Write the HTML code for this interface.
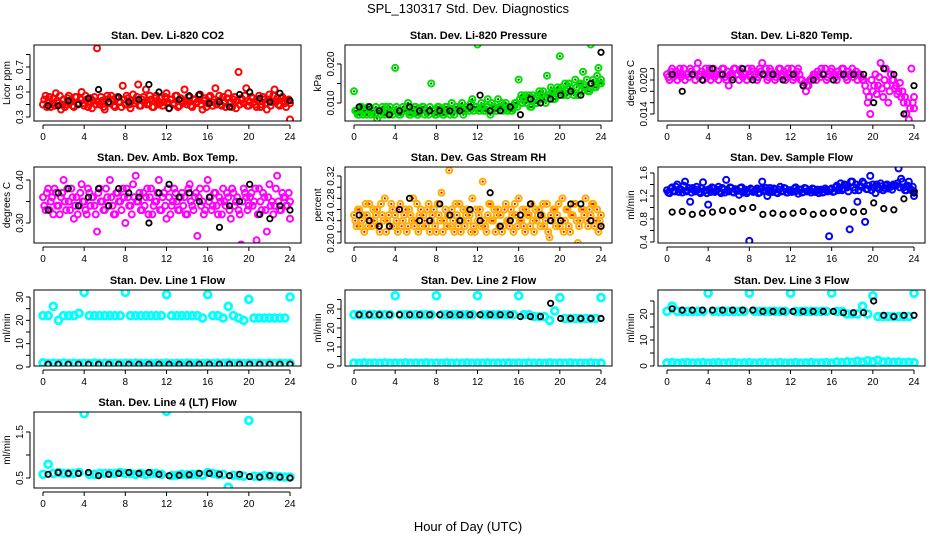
<!DOCTYPE html>
<html><head><meta charset="utf-8"><style>
body{margin:0;background:#fff;}
svg{display:block;font-family:"Liberation Sans",sans-serif;}
</style></head><body>
<svg id="chart" width="936" height="540" viewBox="0 0 936 540">
<text x="468" y="13" text-anchor="middle" font-size="13">SPL_130317  Std. Dev. Diagnostics</text>
<text x="468" y="531" text-anchor="middle" font-size="13">Hour of Day (UTC)</text>
</svg>
<script>
const co2Color=[0.40,0.47,0.42,0.38,0.45,0.49,0.41,0.36,0.44,0.40,0.47,0.43,0.38,0.46,0.41,0.50,0.39,0.44,0.42,0.37,0.46,0.85,0.40,0.43,0.36,0.47,0.41,0.44,0.38,0.46,0.42,0.55,0.40,0.45,0.37,0.48,0.43,0.56,0.39,0.46,0.52,0.41,0.44,0.38,0.47,0.40,0.45,0.42,0.49,0.37,0.44,0.41,0.47,0.39,0.43,0.52,0.40,0.46,0.38,0.44,0.42,0.48,0.36,0.45,0.41,0.47,0.39,0.53,0.43,0.40,0.46,0.38,0.49,0.42,0.44,0.37,0.66,0.45,0.41,0.53,0.39,0.46,0.42,0.38,0.47,0.40,0.44,0.36,0.48,0.42,0.52,0.45,0.39,0.46,0.41,0.43,0.28];
const co2Color2=[0.44,0.38,0.46,0.41,0.39,0.43,0.47,0.40,0.38,0.45,0.42,0.39,0.46,0.40,0.44,0.41,0.47,0.38,0.45,0.43,0.40,0.42,0.46,0.38,0.44,0.41,0.47,0.39,0.45,0.42,0.38,0.44,0.47,0.40,0.43,0.41,0.46,0.39,0.44,0.42,0.40,0.47,0.38,0.45,0.43,0.41,0.39,0.46,0.42,0.44,0.40,0.47,0.38,0.45,0.41,0.43,0.46,0.39,0.44,0.41,0.47,0.40,0.43,0.38,0.46,0.42,0.44,0.40,0.47,0.39,0.42,0.45,0.41,0.38,0.46,0.43,0.40,0.44,0.47,0.39,0.42,0.45,0.40,0.43,0.38,0.46,0.41,0.44,0.39,0.47,0.42,0.40,0.45,0.43,0.38,0.44,0.41];
const co2Black=[0.39,0.39,0.43,0.40,0.45,0.52,0.42,0.46,0.42,0.44,0.56,0.50,0.37,0.44,0.47,0.48,0.41,0.42,0.38,0.48,0.50,0.45,0.42,0.49,0.43];
const presColor=[0.013,0.008,0.007,0.009,0.008,0.007,0.009,0.008,0.007,0.006,0.008,0.009,0.007,0.008,0.009,0.007,0.019,0.008,0.007,0.009,0.008,0.010,0.007,0.008,0.009,0.007,0.008,0.009,0.008,0.007,0.015,0.008,0.007,0.009,0.008,0.007,0.009,0.008,0.010,0.007,0.009,0.008,0.010,0.008,0.009,0.008,0.011,0.009,0.025,0.008,0.009,0.008,0.011,0.007,0.009,0.008,0.011,0.009,0.008,0.010,0.009,0.008,0.009,0.010,0.016,0.012,0.011,0.010,0.012,0.009,0.011,0.010,0.013,0.012,0.011,0.017,0.012,0.013,0.011,0.014,0.022,0.013,0.015,0.012,0.014,0.013,0.016,0.012,0.015,0.018,0.014,0.013,0.025,0.016,0.014,0.019,0.015];
const presColor2=[0.008,0.007,0.009,0.007,0.008,0.009,0.007,0.008,0.009,0.008,0.007,0.008,0.009,0.007,0.008,0.008,0.009,0.007,0.008,0.008,0.009,0.007,0.008,0.009,0.007,0.008,0.009,0.007,0.008,0.009,0.008,0.007,0.009,0.008,0.007,0.009,0.008,0.007,0.008,0.009,0.008,0.009,0.007,0.009,0.008,0.010,0.008,0.009,0.008,0.010,0.008,0.009,0.008,0.010,0.009,0.008,0.009,0.010,0.009,0.008,0.009,0.008,0.010,0.009,0.011,0.010,0.012,0.011,0.009,0.012,0.010,0.012,0.011,0.013,0.010,0.012,0.014,0.011,0.013,0.012,0.014,0.012,0.013,0.015,0.013,0.012,0.014,0.015,0.013,0.014,0.016,0.013,0.015,0.014,0.017,0.015,0.016];
const presBlack=[0.009,0.009,0.008,0.007,0.008,0.009,0.008,0.008,0.008,0.008,0.008,0.009,0.012,0.008,0.008,0.009,0.007,0.011,0.010,0.011,0.012,0.013,0.012,0.015,0.023];
const tempColor=[0.021,0.020,0.022,0.021,0.020,0.022,0.021,0.020,0.021,0.022,0.021,0.020,0.023,0.021,0.020,0.022,0.021,0.020,0.022,0.021,0.020,0.021,0.022,0.020,0.019,0.021,0.022,0.021,0.020,0.022,0.021,0.020,0.021,0.022,0.021,0.020,0.022,0.023,0.021,0.020,0.022,0.021,0.020,0.021,0.022,0.021,0.020,0.022,0.021,0.020,0.021,0.022,0.020,0.019,0.018,0.019,0.020,0.021,0.020,0.021,0.022,0.021,0.020,0.021,0.022,0.021,0.020,0.021,0.022,0.021,0.020,0.021,0.022,0.021,0.020,0.021,0.020,0.019,0.016,0.014,0.018,0.021,0.019,0.023,0.017,0.022,0.016,0.021,0.020,0.019,0.018,0.017,0.016,0.014,0.013,0.022,0.015];
const tempColor2=[0.0205,0.0215,0.0205,0.0215,0.0210,0.0205,0.0220,0.0210,0.0205,0.0215,0.0210,0.0220,0.0205,0.0215,0.0210,0.0205,0.0220,0.0210,0.0205,0.0215,0.0210,0.0220,0.0205,0.0215,0.0210,0.0205,0.0220,0.0210,0.0215,0.0205,0.0210,0.0220,0.0205,0.0215,0.0210,0.0205,0.0215,0.0210,0.0220,0.0205,0.0215,0.0210,0.0205,0.0220,0.0210,0.0215,0.0205,0.0210,0.0220,0.0205,0.0215,0.0210,0.0200,0.0195,0.0190,0.0200,0.0205,0.0210,0.0215,0.0205,0.0210,0.0220,0.0205,0.0215,0.0210,0.0205,0.0215,0.0210,0.0220,0.0205,0.0215,0.0210,0.0205,0.0215,0.0210,0.0205,0.0200,0.0180,0.0170,0.0200,0.0190,0.0175,0.0205,0.0185,0.0200,0.0190,0.0180,0.0200,0.0185,0.0175,0.0195,0.0180,0.0170,0.0160,0.0150,0.0160,0.0170];
const tempBlack=[0.021,0.018,0.021,0.020,0.022,0.021,0.020,0.022,0.020,0.021,0.021,0.020,0.021,0.019,0.020,0.021,0.020,0.021,0.021,0.021,0.016,0.022,0.021,0.014,0.019];
const ambColor=[0.36,0.33,0.38,0.35,0.32,0.37,0.34,0.36,0.40,0.33,0.35,0.38,0.31,0.36,0.34,0.39,0.35,0.32,0.37,0.36,0.34,0.28,0.38,0.35,0.33,0.36,0.40,0.34,0.32,0.37,0.35,0.38,0.30,0.36,0.34,0.39,0.41,0.35,0.33,0.37,0.36,0.32,0.38,0.34,0.35,0.40,0.33,0.37,0.31,0.36,0.34,0.38,0.35,0.33,0.37,0.36,0.32,0.39,0.34,0.36,0.27,0.38,0.35,0.33,0.40,0.36,0.34,0.37,0.32,0.35,0.38,0.34,0.36,0.31,0.37,0.35,0.33,0.25,0.38,0.36,0.34,0.37,0.35,0.26,0.38,0.33,0.36,0.28,0.39,0.35,0.34,0.41,0.33,0.37,0.36,0.34,0.31];
const ambColor2=[0.34,0.37,0.33,0.36,0.38,0.34,0.32,0.37,0.35,0.38,0.33,0.36,0.34,0.32,0.37,0.35,0.33,0.38,0.34,0.36,0.32,0.37,0.35,0.33,0.38,0.34,0.36,0.32,0.37,0.35,0.33,0.36,0.38,0.34,0.32,0.36,0.35,0.37,0.33,0.34,0.38,0.36,0.32,0.35,0.37,0.33,0.36,0.34,0.38,0.32,0.35,0.37,0.33,0.36,0.34,0.32,0.38,0.35,0.33,0.37,0.36,0.34,0.32,0.38,0.35,0.33,0.37,0.34,0.36,0.32,0.35,0.37,0.33,0.38,0.34,0.36,0.32,0.35,0.37,0.33,0.36,0.34,0.38,0.32,0.35,0.37,0.33,0.36,0.34,0.32,0.38,0.35,0.33,0.36,0.34,0.37,0.35];
const ambBlack=[0.33,0.37,0.38,0.34,0.36,0.38,0.34,0.38,0.37,0.36,0.30,0.37,0.39,0.36,0.37,0.35,0.36,0.29,0.34,0.35,0.39,0.32,0.31,0.34,0.33];
const rhColor=[0.25,0.23,0.26,0.24,0.22,0.25,0.27,0.23,0.24,0.26,0.22,0.25,0.28,0.24,0.23,0.26,0.25,0.22,0.27,0.24,0.26,0.23,0.25,0.28,0.24,0.22,0.26,0.25,0.23,0.27,0.24,0.26,0.22,0.25,0.29,0.24,0.23,0.33,0.26,0.22,0.25,0.27,0.24,0.23,0.26,0.25,0.28,0.22,0.24,0.26,0.31,0.23,0.25,0.27,0.24,0.22,0.26,0.25,0.23,0.27,0.24,0.26,0.22,0.25,0.28,0.24,0.23,0.26,0.25,0.27,0.22,0.24,0.26,0.25,0.23,0.27,0.21,0.24,0.26,0.25,0.23,0.28,0.24,0.26,0.22,0.25,0.27,0.20,0.24,0.26,0.28,0.23,0.25,0.27,0.24,0.22,0.25];
const rhColor2=[0.24,0.26,0.23,0.25,0.27,0.23,0.24,0.26,0.25,0.23,0.27,0.24,0.22,0.25,0.27,0.23,0.24,0.26,0.23,0.25,0.22,0.26,0.24,0.23,0.27,0.25,0.23,0.24,0.26,0.22,0.25,0.23,0.27,0.24,0.22,0.26,0.25,0.23,0.24,0.27,0.23,0.22,0.26,0.25,0.24,0.22,0.23,0.26,0.25,0.23,0.24,0.22,0.27,0.24,0.26,0.25,0.23,0.22,0.26,0.24,0.23,0.25,0.27,0.23,0.24,0.26,0.22,0.25,0.23,0.24,0.26,0.25,0.23,0.27,0.24,0.22,0.25,0.26,0.23,0.27,0.24,0.22,0.26,0.23,0.25,0.27,0.24,0.23,0.26,0.25,0.24,0.26,0.27,0.23,0.26,0.24,0.23];
const rhBlack=[0.25,0.24,0.23,0.23,0.26,0.28,0.24,0.24,0.27,0.25,0.24,0.26,0.24,0.29,0.23,0.24,0.25,0.27,0.25,0.24,0.24,0.27,0.27,0.24,0.23];
const flowColor=[1.30,1.25,1.35,1.28,1.40,1.32,1.26,1.45,1.30,1.10,1.34,1.28,1.31,1.25,1.44,1.30,1.05,1.27,1.33,1.29,1.36,1.25,1.31,1.48,1.28,1.34,1.26,1.30,1.22,1.35,1.29,1.25,0.42,1.31,1.28,1.33,1.26,1.45,1.30,1.20,1.34,1.27,1.31,1.25,1.36,1.29,1.33,1.26,1.30,1.28,1.35,1.24,1.31,1.27,1.33,1.29,1.26,1.32,1.28,1.25,1.31,1.27,1.30,0.50,1.33,1.28,1.38,1.34,1.30,1.40,1.35,0.62,1.45,1.30,1.10,1.38,1.45,0.75,1.32,1.55,1.40,1.25,1.35,1.42,1.30,1.38,1.33,1.36,1.40,1.38,1.68,1.50,1.35,1.30,1.45,1.30,1.20];
const flowColor2=[1.26,1.33,1.29,1.36,1.27,1.31,1.38,1.28,1.34,1.26,1.30,1.36,1.27,1.33,1.29,1.25,1.32,1.35,1.27,1.31,1.28,1.34,1.26,1.30,1.35,1.27,1.32,1.29,1.34,1.26,1.31,1.28,1.33,1.27,1.30,1.25,1.32,1.29,1.34,1.27,1.30,1.33,1.26,1.31,1.28,1.34,1.26,1.30,1.27,1.33,1.29,1.31,1.26,1.34,1.28,1.30,1.33,1.27,1.31,1.29,1.26,1.33,1.28,1.31,1.27,1.35,1.30,1.42,1.33,1.38,1.28,1.45,1.35,1.40,1.30,1.36,1.42,1.32,1.38,1.30,1.35,1.40,1.32,1.37,1.34,1.40,1.36,1.31,1.38,1.42,1.35,1.45,1.30,1.38,1.33,1.36,1.28];
const flowBlack=[0.92,0.93,0.88,0.90,0.92,0.95,0.93,0.98,1.00,0.88,0.90,0.88,0.90,0.93,0.88,0.90,0.92,0.95,0.92,0.93,1.08,0.98,0.96,1.15,1.25];
const line1High=[22,22,26,20,22,22,22,23,32,22,22,22,22,22,22,22,32,22,22,22,22,22,22,22,31,22,22,22,22,22,22,21,31,22,22,21,26,22,21,20,29,21,21,21,21,21,21,21,30];
const line1Low=[1.8,1.5,1.6,1.5,1.7,1.5,1.6,1.5,1.6,1.5,1.7,1.5,1.6,1.5,1.6,1.5,1.6,1.5,1.7,1.5,1.6,1.5,1.6,1.5,1.6,1.5,1.6,1.5,1.7,1.5,1.6,1.5,1.6,1.5,1.6,1.5,1.7,1.5,1.6,1.5,1.6,1.5,1.6,1.5,1.6,1.5,1.6,1.5,1.6];
const line1Black=[1.2,1.2,1.2,1.2,1.2,1.2,1.2,1.2,1.2,1.2,1.2,1.2,1.2,1.2,1.2,1.2,1.2,1.2,1.2,1.2,1.2,1.2,1.2,1.2,1.2];
const line2High=[27,27,27,27,27,27,27,27,37,27,27,27,27,27,27,27,37,27,27,27,27,27,27,27,37,27,27,27,27,27,27,27,37,27,27,26,26,26,24,29,36,25,25,25,25,25,25,25,36];
const line2Low=[1.5,1.4,1.6,1.4,1.5,1.4,1.6,1.4,1.5,1.4,1.6,1.4,1.5,1.4,1.6,1.4,1.5,1.4,1.6,1.4,1.5,1.4,1.6,1.4,1.5,1.4,1.6,1.4,1.5,1.4,1.6,1.4,1.5,1.4,1.6,1.4,1.5,1.4,1.6,1.4,1.5,1.4,1.6,1.4,1.5,1.4,1.6,1.4,1.5];
const line2Black=[27,27,27,27,27,27,27,27,27,27,27,27,27,27,27,27,26,26,26,33,25,25,25,25,25];
const line3High=[21,23,21,21,21,21,21,21,28,21,21,21,21,21,21,21,28,21,21,21,21,21,21,21,28,21,21,21,21,21,21,21,28,21,21,20,20,20,23,20,27,19,19,19,19,19,19,19,28];
const line3Low=[1.2,1.3,1.1,1.2,1.3,1.1,1.2,1.3,1.1,1.2,1.3,1.1,1.2,1.3,1.1,1.2,1.3,1.1,1.2,1.3,1.1,1.2,1.3,1.1,1.2,1.3,1.1,1.2,1.3,1.1,1.2,1.3,1.1,1.5,1.3,1.6,1.4,1.8,1.5,2.0,1.6,2.2,1.5,1.6,1.4,1.5,1.3,1.4,1.3];
const line3Black=[22,21.5,21.5,21.5,21.5,21.5,21.5,21.5,21.5,21,21,21,21,21,21,21,21,20.5,20.5,20.5,25,19.5,19,19.5,19.5];
const line4High=[0.58,0.80,0.60,0.62,0.60,0.60,0.60,0.62,1.90,0.58,0.58,0.60,0.60,0.60,0.60,0.62,0.60,0.60,0.58,0.60,0.58,0.60,0.60,0.58,1.95,0.55,0.56,0.58,0.57,0.58,0.58,0.56,0.62,0.60,0.58,0.58,0.30,0.56,0.55,0.54,1.75,0.54,0.53,0.55,0.54,0.54,0.53,0.52,0.52];
const line4Black=[0.58,0.62,0.60,0.60,0.62,0.55,0.58,0.60,0.62,0.60,0.62,0.58,0.55,0.56,0.57,0.60,0.60,0.58,0.55,0.58,0.53,0.52,0.55,0.52,0.50];
const xTicks=[0,4,8,12,16,20,24];

const NS='http://www.w3.org/2000/svg';
const svg=document.getElementById('chart');
const colLeft=[34,345,658], rowTop=[45,167,290,412], W=267, H=76;
function mk(tag,attrs,parent){const e=document.createElementNS(NS,tag);for(const k in attrs)e.setAttribute(k,attrs[k]);(parent||svg).appendChild(e);return e;}

const panels=[
 {c:0,r:0,key:'co2',title:'Stan. Dev. Li-820 CO2',yl:'Licor ppm',v0:0.3,p0:117,v1:0.7,p1:67,ticks:[0.3,0.4,0.5,0.6,0.7,0.8],labels:['0.3','','0.5','','0.7',''],series:[[co2Color2,'#ff0000',null],[co2Color,'#ff0000',null],[co2Black,'#000',null]]},
 {c:1,r:0,key:'pressure',title:'Stan. Dev. Li-820 Pressure',yl:'kPa',v0:0.010,p0:103,v1:0.020,p1:64,ticks:[0.010,0.015,0.020],labels:['0.010','','0.020'],series:[[presColor2,'#00e000','#006000'],[presColor,'#00e000','#006000'],[presBlack,'#000',null]]},
 {c:2,r:0,key:'temp',title:'Stan. Dev. Li-820 Temp.',yl:'degrees C',v0:0.014,p0:114,v1:0.020,p1:80,ticks:[0.014,0.016,0.018,0.020,0.022],labels:['0.014','','','0.020',''],series:[[tempColor2,'#ff00ff',null],[tempColor,'#ff00ff',null],[tempBlack,'#000',null]]},
 {c:0,r:1,key:'amb',title:'Stan. Dev. Amb. Box Temp.',yl:'degrees C',v0:0.30,p0:223,v1:0.40,p1:180,ticks:[0.30,0.35,0.40],labels:['0.30','','0.40'],series:[[ambColor2,'#ff00ff',null],[ambColor,'#ff00ff',null],[ambBlack,'#000',null]]},
 {c:1,r:1,key:'rh',title:'Stan. Dev. Gas Stream RH',yl:'percent',v0:0.20,p0:243,v1:0.32,p1:176,ticks:[0.20,0.22,0.24,0.26,0.28,0.30,0.32],labels:['0.20','','0.24','','0.28','','0.32'],series:[[rhColor2,'#ffb000','#ff0000'],[rhColor,'#ffb000','#ff0000'],[rhBlack,'#000',null]]},
 {c:2,r:1,key:'sample',title:'Stan. Dev. Sample Flow',yl:'ml/min',v0:0.4,p0:242,v1:1.6,p1:173,ticks:[0.4,0.6,0.8,1.0,1.2,1.4,1.6],labels:['0.4','','0.8','','1.2','','1.6'],series:[[flowColor2,'#0000ff',null],[flowColor,'#0000ff',null],[flowBlack,'#000',null]]},
 {c:0,r:2,key:'line1',title:'Stan. Dev. Line 1 Flow',yl:'ml/min',v0:0,p0:367,v1:30,p1:297,ticks:[0,5,10,15,20,25,30],labels:['0','','10','','20','','30'],series:[[line1High,'#00ffff',null],[line1Low,'#00ffff',null],[line1Black,'#000',null]]},
 {c:1,r:2,key:'line2',title:'Stan. Dev. Line 2 Flow',yl:'ml/min',v0:0,p0:366,v1:30,p1:309,ticks:[0,5,10,15,20,25,30,35],labels:['0','','10','','20','','30',''],series:[[line2High,'#00ffff',null],[line2Low,'#00ffff',null],[line2Black,'#000',null]]},
 {c:2,r:2,key:'line3',title:'Stan. Dev. Line 3 Flow',yl:'ml/min',v0:0,p0:366,v1:20,p1:314,ticks:[0,5,10,15,20,25],labels:['0','','10','','20',''],series:[[line3High,'#00ffff',null],[line3Low,'#00ffff',null],[line3Black,'#000',null]]},
 {c:0,r:3,key:'line4',title:'Stan. Dev. Line 4 (LT) Flow',yl:'ml/min',v0:0.5,p0:478,v1:1.5,p1:432,ticks:[0.5,1.0,1.5,2.0],labels:['0.5','','1.5',''],series:[[line4High,'#00ffff',null],[line4Black,'#000',null]]}
];

panels.forEach(p=>{
  const L=colLeft[p.c], T=rowTop[p.r], B=T+H, R=L+W;
  const g=mk('g',{});
  
  
  const xs=h=>L+9+h*(247/24);
  const ys=v=>p.p0+(v-p.v0)*(p.p1-p.p0)/(p.v1-p.v0);
  const t=mk('text',{x:(L+R)/2,y:T-6,'text-anchor':'middle','font-size':11,'font-weight':'bold'},g);
  t.textContent=p.title;
  
  
  const yl=mk('text',{x:0,y:0,transform:`translate(${L-24},${(T+B)/2}) rotate(-90)`,'text-anchor':'middle','font-size':10},g);
  yl.textContent=p.yl;
  
  
  const xa=mk('g',{},g);
  
  
  mk('line',{x1:xs(0),x2:xs(24),y1:B+4,y2:B+4,stroke:'#000'},xa);
  xTicks.forEach(h=>{
    mk('line',{x1:xs(h),x2:xs(h),y1:B+4,y2:B+8,stroke:'#000'},xa);
    const tl=mk('text',{x:xs(h),y:B+19,'text-anchor':'middle','font-size':10},xa);
    tl.textContent=h;
    
    
  });
  const ya=mk('g',{},g);
  
  
  const inT=p.ticks.filter(v=>ys(v)>=T-1&&ys(v)<=B+1);
  mk('line',{x1:L-4,x2:L-4,y1:ys(inT[0]),y2:ys(inT[inT.length-1]),stroke:'#000'},ya);
  p.ticks.forEach((v,i)=>{
    const y=ys(v); if(y<T-1||y>B+1) return;
    mk('line',{x1:L-8,x2:L-4,y1:y,y2:y,stroke:'#000'},ya);
    if(p.labels[i]){
      const tl=mk('text',{x:0,y:0,transform:`translate(${L-11},${y}) rotate(-90)`,'text-anchor':'middle','font-size':10},ya);
      tl.textContent=p.labels[i];
      
      
    }
  });
  const cp='cp-'+p.key;
  const cpe=mk('clipPath',{id:cp},g); mk('rect',{x:L,y:T,width:W,height:H},cpe);
  const pts=mk('g',{'clip-path':`url(#${cp})`},g);
  p.series.forEach((s,si)=>{
    const [vals,col,inner]=s;
    const sg=mk('g',{},pts);
    
    
    const blk=col==='#000';
    const sparse=!blk&&vals.length<60;
    const off=(si===0&&p.series.length===3&&!blk&&vals.length>60)?0.125:0;
    vals.forEach((v,i)=>{
      const h=blk?0.5+i*23.5/(vals.length-1):Math.min(24,i*24/(vals.length-1)+off);
      const c=mk('circle',{cx:xs(h),cy:ys(v),r:blk?2.7:(sparse?3.4:3),fill:'none',stroke:col,'stroke-width':blk?1.8:(sparse?2.8:2)},sg);
      
      
      if(inner) mk('circle',{cx:xs(h),cy:ys(v),r:1.1,fill:inner},sg);
    });
  });
  mk('rect',{x:L,y:T,width:W,height:H,fill:'none',stroke:'#000','stroke-width':1},g);
});
</script>
</body></html>
